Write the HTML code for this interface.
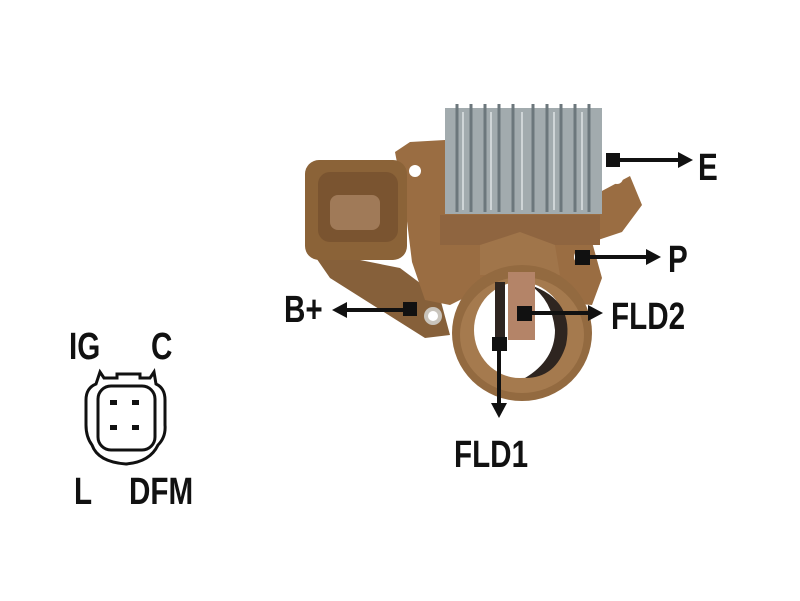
<!DOCTYPE html>
<html><head><meta charset="utf-8"><style>
html,body{margin:0;padding:0;background:#fff;}
svg{display:block;}
text{font-family:"Liberation Sans",sans-serif;font-weight:bold;fill:#111;}
</style></head><body>
<svg width="800" height="601" viewBox="0 0 800 601" xmlns="http://www.w3.org/2000/svg">
<rect width="800" height="601" fill="#fff"/>
<!-- base plate -->
<polygon points="318,232 350,258 400,268 440,298 450,335 425,338 330,278 312,252" fill="#86603a"/>
<!-- body -->
<polygon points="395,152 410,142 445,140 445,213 600,213 600,192 630,176 642,205 622,232 592,242 602,278 592,305 470,295 450,305 425,300 412,262 405,205" fill="#9a6d42"/>
<polygon points="440,215 600,215 600,245 440,245" fill="#8f6540"/>
<polygon points="480,245 520,232 555,245 560,275 480,275" fill="#a0754a"/>
<!-- ring -->
<ellipse cx="522" cy="333" rx="70" ry="68" fill="#936a40"/>
<ellipse cx="522" cy="335" rx="62" ry="58" fill="#a57a4e"/>
<ellipse cx="520" cy="330" rx="46" ry="48" fill="#fff"/>
<path d="M530,285 Q575,300 566,345 Q556,378 525,378 Q555,360 555,330 Q552,300 530,285Z" fill="#2e2520"/>
<rect x="508" y="272" width="27" height="68" fill="#b48468"/>
<rect x="495" y="282" width="10" height="60" fill="#2e2520"/>
<!-- connector -->
<rect x="305" y="160" width="102" height="100" rx="14" fill="#8b6338"/>
<rect x="318" y="172" width="80" height="70" rx="12" fill="#7a5430"/>
<rect x="330" y="195" width="50" height="35" rx="8" fill="#a07a58"/>
<!-- heatsink -->
<rect x="445" y="108" width="157" height="106" fill="#a2abae"/>
<g stroke="#6c777c" stroke-width="3">
<line x1="457" y1="104" x2="457" y2="212"/><line x1="471" y1="104" x2="471" y2="212"/><line x1="485" y1="104" x2="485" y2="212"/><line x1="499" y1="104" x2="499" y2="212"/><line x1="513" y1="104" x2="513" y2="212"/><line x1="533" y1="104" x2="533" y2="212"/><line x1="547" y1="104" x2="547" y2="212"/><line x1="561" y1="104" x2="561" y2="212"/><line x1="575" y1="104" x2="575" y2="212"/><line x1="589" y1="104" x2="589" y2="212"/>
</g>
<g stroke="#cfd5d7" stroke-width="2">
<line x1="463" y1="112" x2="463" y2="210"/><line x1="491" y1="112" x2="491" y2="210"/><line x1="522" y1="112" x2="522" y2="210"/><line x1="554" y1="112" x2="554" y2="210"/><line x1="582" y1="112" x2="582" y2="210"/>
</g>
<!-- holes -->
<circle cx="415" cy="171" r="6" fill="#fff"/>
<circle cx="433" cy="316" r="9" fill="#c9c4bc"/><circle cx="433" cy="316" r="5" fill="#fff"/>
<circle cx="581" cy="257" r="7" fill="#fff"/>
<circle cx="617" cy="178" r="6" fill="#fff"/>
<!-- arrows -->
<g fill="#111" stroke="#111">
<rect x="606" y="153" width="14" height="14" stroke="none"/>
<line x1="614" y1="160" x2="680" y2="160" stroke-width="4"/><polygon points="678,152 693,160 678,168" stroke="none"/>
<rect x="575" y="250" width="15" height="15" stroke="none"/>
<line x1="583" y1="257" x2="648" y2="257" stroke-width="4"/><polygon points="646,249 661,257 646,265" stroke="none"/>
<rect x="403" y="302" width="14" height="14" stroke="none"/>
<line x1="410" y1="310" x2="345" y2="310" stroke-width="4"/><polygon points="347,302 332,310 347,318" stroke="none"/>
<rect x="517" y="306" width="15" height="15" stroke="none"/>
<line x1="525" y1="313" x2="590" y2="313" stroke-width="4"/><polygon points="588,305 603,313 588,321" stroke="none"/>
<rect x="492" y="337" width="15" height="14" stroke="none"/>
<line x1="499" y1="344" x2="499" y2="405" stroke-width="4"/><polygon points="491,403 499,418 507,403" stroke="none"/>
</g>
<!-- labels -->
<g font-size="38">
<text x="698" y="180" transform="translate(698,0) scale(0.78,1) translate(-698,0)">E</text>
<text x="668" y="272" transform="translate(668,0) scale(0.78,1) translate(-668,0)">P</text>
<text x="284" y="322" transform="translate(284,0) scale(0.78,1) translate(-284,0)">B+</text>
<text x="611" y="329" transform="translate(611,0) scale(0.78,1) translate(-611,0)">FLD2</text>
<text x="454" y="467" transform="translate(454,0) scale(0.78,1) translate(-454,0)">FLD1</text>
<text x="69" y="359" transform="translate(69,0) scale(0.78,1) translate(-69,0)">IG</text>
<text x="151" y="359" transform="translate(151,0) scale(0.78,1) translate(-151,0)">C</text>
<text x="74" y="504" transform="translate(74,0) scale(0.78,1) translate(-74,0)">L</text>
<text x="129" y="504" transform="translate(129,0) scale(0.78,1) translate(-129,0)">DFM</text>
</g>
<!-- connector icon -->
<path d="M100,372 L104,378 L117,378 L117,374 L140,374 L140,378 L150,378 L154,372 L156,384 Q165,388 165,400 L165,425 Q166,437 158,445 Q150,462 126,464 Q98,462 92,445 Q86,437 86,425 L86,400 Q86,388 96,384 Z" fill="none" stroke="#111" stroke-width="3"/>
<rect x="98" y="386" width="57" height="64" rx="13" fill="none" stroke="#111" stroke-width="3"/>
<g fill="#111"><rect x="110" y="400" width="7" height="5"/><rect x="132" y="400" width="7" height="5"/><rect x="110" y="425" width="7" height="5"/><rect x="132" y="425" width="7" height="5"/></g>
</svg>
</body></html>
